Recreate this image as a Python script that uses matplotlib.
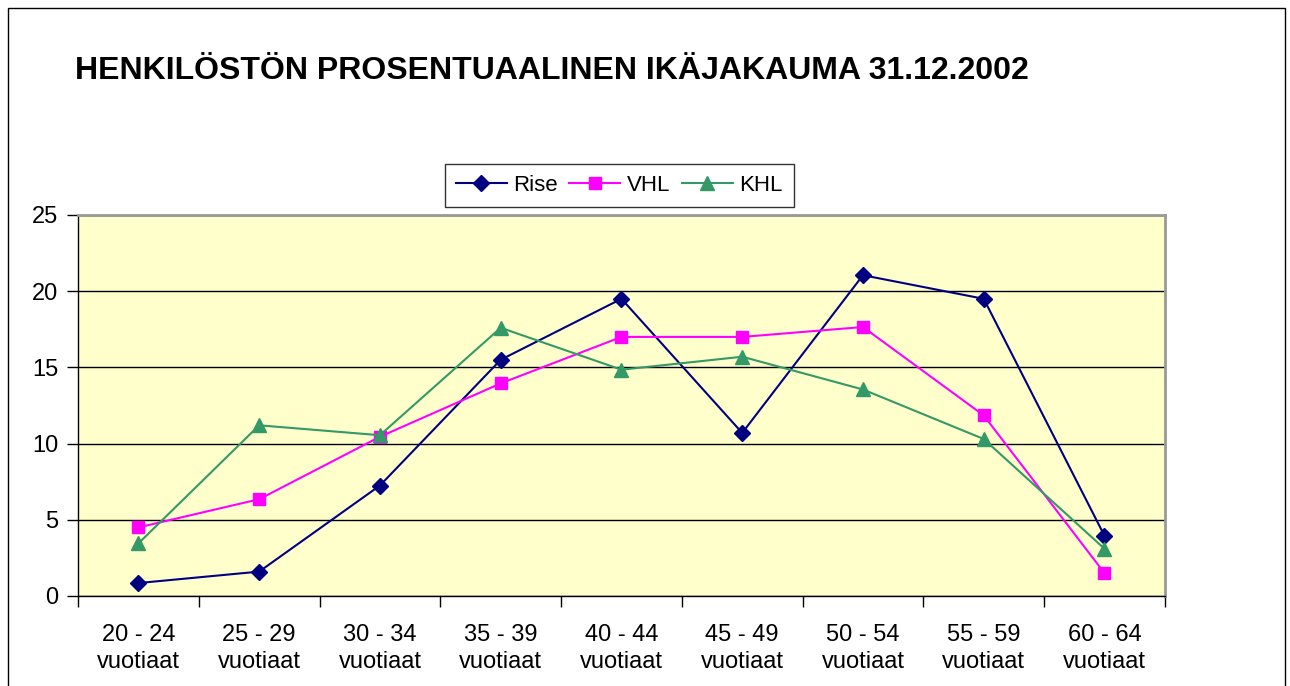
import matplotlib.pyplot as plt
from matplotlib.patches import Rectangle

categories = ["20 - 24\nvuotiaat", "25 - 29\nvuotiaat", "30 - 34\nvuotiaat",
              "35 - 39\nvuotiaat", "40 - 44\nvuotiaat", "45 - 49\nvuotiaat",
              "50 - 54\nvuotiaat", "55 - 59\nvuotiaat", "60 - 64\nvuotiaat"]
rise = [0.85, 1.6, 7.25, 15.5, 19.5, 10.7, 21.05, 19.5, 3.95]
vhl = [4.5, 6.35, 10.45, 13.95, 17.0, 17.0, 17.65, 11.85, 1.5]
khl = [3.45, 11.2, 10.55, 17.6, 14.85, 15.7, 13.55, 10.3, 3.1]

plt.rcParams["font.family"] = ["Liberation Sans", "DejaVu Sans"]

fig = plt.figure(figsize=(12.9, 6.86), dpi=100)
ax = fig.add_axes([0.0605, 0.1312, 0.8425, 0.5554])
ax.set_facecolor("#FFFFCC")

x = list(range(len(categories)))
ax.plot(x, rise, color="#000080", marker="D", markersize=8, lw=1.5, label="Rise")
ax.plot(x, vhl, color="#FF00FF", marker="s", markersize=9, lw=1.5, label="VHL")
ax.plot(x, khl, color="#339966", marker="^", markersize=10, lw=1.5, label="KHL")

ax.set_xlim(-0.5, len(categories) - 0.5)
ax.set_ylim(0, 25)
ax.set_yticks(range(0, 26, 5))
ax.yaxis.grid(True, color="black", lw=1)
ax.set_axisbelow(True)

ax.set_xticks(x)
ax.set_xticklabels(categories, fontsize=17, linespacing=1.3)
ax.set_xticks([i - 0.5 for i in range(len(categories) + 1)], minor=True)
ax.tick_params(axis="x", which="major", length=0, pad=20)
ax.tick_params(axis="x", which="minor", length=8, width=1)
ax.tick_params(axis="y", labelsize=17, length=8, width=1, pad=6)

for s in ["top", "right"]:
    ax.spines[s].set_color("#999999")
    ax.spines[s].set_linewidth(2)
for s in ["left", "bottom"]:
    ax.spines[s].set_color("black")
    ax.spines[s].set_linewidth(1)

leg = ax.legend(loc="lower center", bbox_to_anchor=(0.498, 1.02), ncol=3,
                fontsize=16, frameon=True, fancybox=False, handlelength=2.3,
                columnspacing=0.5, handletextpad=0.3, borderpad=0.5,
                borderaxespad=0)
leg.get_frame().set_edgecolor("black")
leg.get_frame().set_linewidth(1)

fig.text(0.058, 0.897, "HENKILÖSTÖN PROSENTUAALINEN IKÄJAKAUMA 31.12.2002",
         fontsize=23, fontweight="bold", va="center", ha="left")

fig.patches.append(Rectangle((0.006, -0.01), 0.99, 0.999, transform=fig.transFigure,
                             fill=False, edgecolor="black", lw=1))

fig.savefig("out.png", dpi=100)
